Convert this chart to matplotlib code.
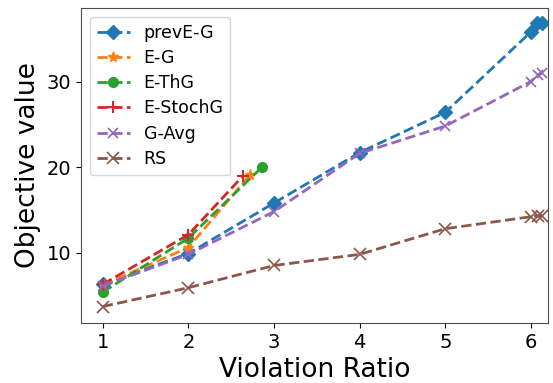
import matplotlib
matplotlib.use("Agg")
import matplotlib.pyplot as plt

# violation ratio vs objective value per method
prev_x = [1, 2, 3, 4, 5, 6.0, 6.07, 6.13]
prev_y = [6.3, 9.9, 15.8, 21.7, 26.4, 35.8, 36.8, 36.9]

eg_x = [1, 2, 2.72]
eg_y = [6.2, 10.6, 19.1]

ethg_x = [1, 2, 2.86]
ethg_y = [5.4, 11.7, 20.0]

estoch_x = [1, 2, 2.64]
estoch_y = [6.3, 12.1, 19.0]

gavg_x = [1, 2, 3, 4, 5, 6.0, 6.08, 6.13]
gavg_y = [6.1, 9.8, 14.8, 21.6, 24.8, 30.0, 30.8, 31.0]

rs_x = [1, 2, 3, 4, 5, 6.0, 6.08, 6.13]
rs_y = [3.7, 5.9, 8.5, 9.8, 12.8, 14.2, 14.3, 14.3]

fig = plt.figure(figsize=(5.53, 3.83), dpi=100)
ax = fig.add_axes([0.1465, 0.1567, 0.8445, 0.8225])

ax.plot(prev_x, prev_y, '--', marker='D', markersize=7, lw=2, label='prevE-G')
ax.plot(eg_x, eg_y, '--', marker='*', markersize=8, lw=2, label='E-G')
ax.plot(ethg_x, ethg_y, '--', marker='o', markersize=7, lw=2, label='E-ThG')
ax.plot(estoch_x, estoch_y, '--', marker='+', markersize=8, mew=1.5, lw=2, label='E-StochG')
ax.plot(gavg_x, gavg_y, '--', marker='x', markersize=7, mew=1.2, lw=2, label='G-Avg')
ax.plot(rs_x, rs_y, '--', marker='x', markersize=8, mew=1.2, lw=2, label='RS')

ax.set_xlim(0.746, 6.20)
ax.set_ylim(1.78, 38.6)
ax.set_xticks([1, 2, 3, 4, 5, 6])
ax.set_yticks([10, 20, 30])
ax.tick_params(labelsize=14)
for s in ax.spines.values():
    s.set_color('0.3')
ax.set_xlabel('Violation Ratio', fontsize=19)
ax.set_ylabel('Objective value', fontsize=19)
ax.legend(loc='upper left', fontsize=12.5, labelspacing=0.42, handlelength=1.9)

fig.savefig('out.png', dpi=100)
